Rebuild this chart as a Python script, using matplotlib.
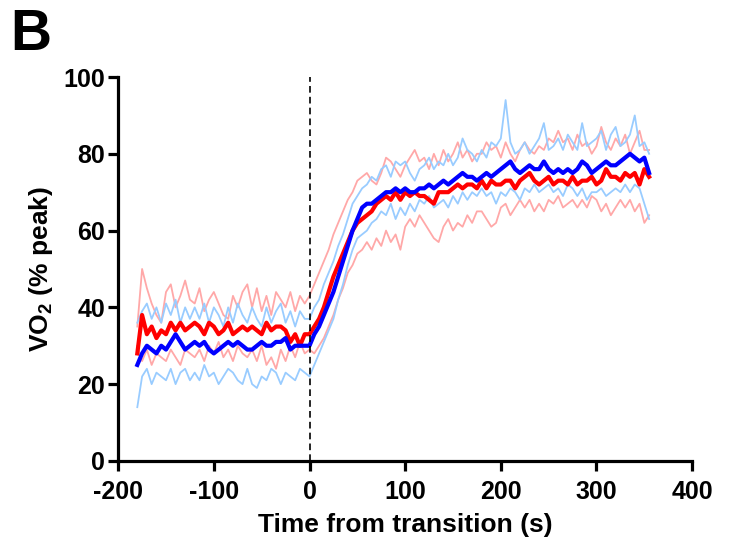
import numpy as np
import matplotlib
matplotlib.use("Agg")
import matplotlib.pyplot as plt

plt.rcParams['font.family'] = ['Liberation Sans', 'DejaVu Sans']
plt.rcParams['mathtext.fontset'] = 'custom'
plt.rcParams['mathtext.rm'] = 'Liberation Sans:bold'
plt.rcParams['mathtext.bf'] = 'Liberation Sans:bold'
plt.rcParams['axes.unicode_minus'] = False

# time grid (s) from transition
time_s = list(range(-180, 360, 5))

red_mean = [28, 38, 33, 35, 32, 34, 33, 36, 34, 36, 34, 35,
            36, 35, 33, 36, 35, 33, 34, 36, 33, 34, 35, 34,
            35, 34, 33, 36, 34, 35, 35, 34, 31, 33, 30, 33,
            33, 35, 37, 40, 44, 48, 51, 54, 57, 60, 62, 63,
            64, 65, 67, 68, 69, 68, 70, 68, 70, 69, 70, 69,
            69, 68, 67, 70, 70, 70, 71, 72, 71, 72, 72, 71,
            73, 71, 73, 72, 72, 73, 73, 71, 73, 74, 75, 73,
            72, 73, 74, 72, 73, 73, 72, 74, 72, 73, 73, 74,
            72, 73, 76, 74, 74, 73, 75, 74, 75, 72, 76, 74]

blue_mean = [25, 28, 30, 29, 28, 30, 29, 31, 33, 31, 29, 30,
             31, 30, 31, 29, 28, 29, 30, 31, 30, 31, 30, 29,
             29, 30, 31, 30, 30, 31, 31, 32, 29, 30, 30, 30,
             30, 33, 35, 38, 41, 44, 48, 52, 56, 60, 63, 66,
             67, 67, 68, 69, 70, 70, 71, 70, 71, 70, 70, 71,
             71, 72, 71, 72, 73, 72, 73, 74, 75, 74, 74, 73,
             74, 75, 74, 75, 76, 77, 78, 76, 75, 76, 77, 76,
             76, 78, 76, 75, 76, 75, 76, 75, 76, 78, 77, 75,
             76, 77, 78, 77, 77, 78, 79, 80, 79, 78, 79, 75]

red_upper = [35, 50, 45, 41, 38, 36, 44, 46, 40, 43, 47, 42,
             41, 45, 39, 42, 44, 41, 38, 37, 43, 40, 44, 46,
             40, 45, 39, 43, 38, 44, 42, 40, 44, 39, 43, 41,
             43, 46, 49, 52, 55, 59, 62, 65, 68, 70, 73, 74,
             75, 73, 72, 75, 79, 78, 76, 74, 77, 79, 81, 78,
             79, 76, 80, 77, 81, 78, 80, 83, 79, 81, 78, 80,
             80, 83, 81, 82, 79, 83, 80, 78, 81, 83, 81, 80,
             82, 81, 84, 83, 86, 83, 84, 81, 85, 82, 83, 80,
             82, 87, 83, 81, 84, 82, 85, 80, 83, 86, 81, 81]

red_lower = [30, 26, 29, 25, 28, 27, 26, 29, 27, 25, 29, 28,
             27, 29, 26, 30, 28, 31, 27, 29, 26, 30, 28, 27,
             29, 26, 30, 25, 27, 24, 29, 26, 30, 27, 31, 28,
             29, 28, 30, 32, 35, 38, 42, 45, 49, 51, 54, 55,
             57, 55, 58, 56, 60, 57, 59, 55, 61, 63, 61, 64,
             62, 60, 58, 57, 61, 63, 60, 62, 61, 64, 62, 65,
             65, 63, 61, 62, 66, 67, 64, 66, 68, 66, 68, 65,
             67, 65, 68, 67, 69, 66, 67, 68, 66, 68, 66, 69,
             68, 65, 67, 64, 66, 68, 66, 68, 65, 67, 62, 64]

blue_upper = [36, 39, 41, 37, 40, 36, 41, 38, 42, 36, 40, 37,
              40, 37, 41, 36, 40, 38, 35, 40, 36, 41, 38, 36,
              40, 37, 35, 40, 36, 39, 41, 36, 39, 35, 39, 37,
              37, 40, 42, 46, 49, 52, 56, 59, 63, 67, 69, 71,
              72, 74, 73, 76, 77, 74, 78, 77, 78, 75, 73, 76,
              77, 79, 76, 78, 77, 80, 77, 79, 84, 81, 80, 78,
              81, 79, 83, 82, 84, 94, 83, 80, 81, 83, 80, 82,
              84, 88, 81, 82, 84, 81, 85, 83, 81, 88, 82, 83,
              84, 86, 81, 85, 87, 82, 83, 85, 90, 82, 83, 80]

blue_lower = [14, 22, 24, 20, 23, 22, 21, 24, 20, 23, 24, 21,
              23, 21, 25, 22, 23, 20, 22, 24, 23, 21, 20, 24,
              20, 19, 22, 21, 24, 23, 20, 23, 22, 21, 24, 23,
              22, 25, 28, 31, 34, 37, 42, 46, 51, 55, 58, 59,
              60, 62, 63, 65, 64, 67, 63, 66, 64, 67, 65, 68,
              67, 69, 66, 67, 68, 66, 69, 67, 70, 68, 70, 69,
              71, 69, 70, 67, 70, 69, 71, 70, 68, 71, 70, 72,
              70, 71, 72, 70, 71, 69, 72, 71, 69, 71, 68, 70,
              70, 71, 69, 70, 71, 70, 72, 70, 72, 71, 67, 63]

x_ticks = [-200, -100, 0, 100, 200, 300, 400]
y_ticks = [0, 20, 40, 60, 80, 100]

fig = plt.figure(figsize=(7.34, 5.52), dpi=100)
ax = fig.add_axes([0.161, 0.165, 0.782, 0.6955])

light_red = '#FFA8A8'
light_blue = '#99CCFF'
ax.plot(time_s, red_upper, color=light_red, lw=1.3)
ax.plot(time_s, red_lower, color=light_red, lw=1.3)
ax.plot(time_s, blue_upper, color=light_blue, lw=1.3)
ax.plot(time_s, blue_lower, color=light_blue, lw=1.3)
ax.plot(time_s, red_mean, color='#FF0000', lw=3.0)
ax.plot(time_s, blue_mean, color='#0000FF', lw=3.0)
ax.axvline(0, color='black', lw=1.2, ls=(0, (4, 2.5)))

ax.set_xlim(-200, 400)
ax.set_ylim(0, 100)
ax.set_xticks(x_ticks)
ax.set_yticks(y_ticks)
for s in ['top', 'right']:
    ax.spines[s].set_visible(False)
for s in ['left', 'bottom']:
    ax.spines[s].set_linewidth(2.3)
ax.tick_params(width=2.3, length=7.5, labelsize=18)
ax.tick_params(axis='x', pad=6)
ax.tick_params(axis='y', pad=2)
for lab in ax.get_xticklabels() + ax.get_yticklabels():
    lab.set_fontweight('bold')
ax.set_xlabel('Time from transition (s)', fontsize=19, fontweight='bold', labelpad=7)
ax.set_ylabel(r'VO$_\mathbf{2}$ (% peak)', fontsize=19, fontweight='bold', labelpad=6)

fig.text(0.014, 0.985, 'B', fontsize=41, fontweight='bold', va='top', ha='left')

fig.savefig('out.png', dpi=100)
